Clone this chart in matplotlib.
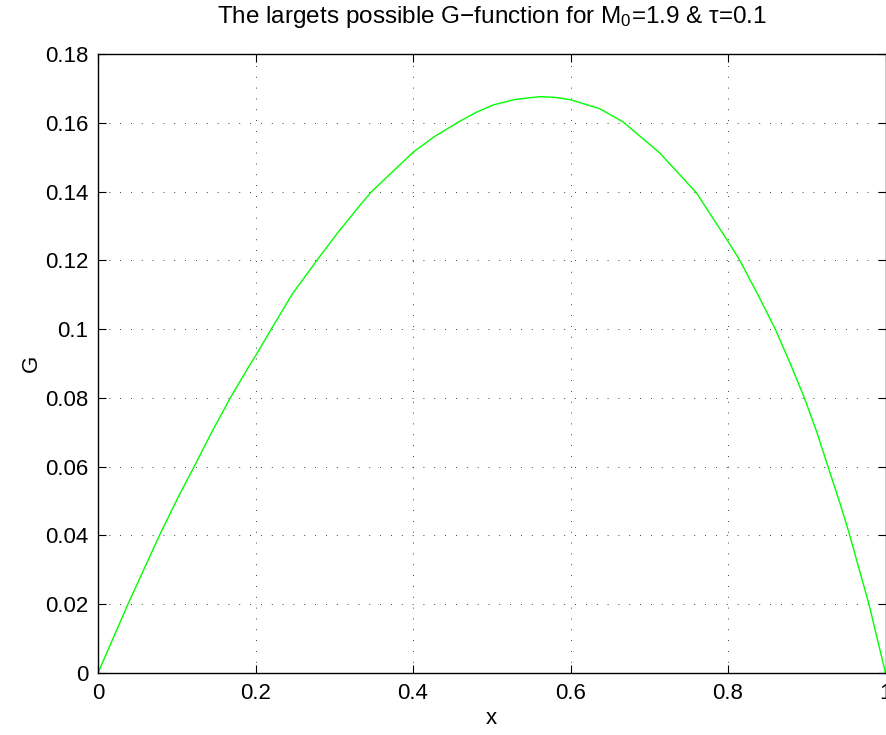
import matplotlib.pyplot as plt

plt.rcParams['font.family'] = ['Liberation Sans', 'DejaVu Sans']
plt.rcParams['mathtext.fontset'] = 'custom'
plt.rcParams['mathtext.rm'] = 'Liberation Sans'
plt.rcParams['mathtext.it'] = 'Liberation Sans:italic'

# values
x = [0.0, 0.038, 0.058, 0.078, 0.1015, 0.122, 0.146, 0.168, 0.192, 0.2,
     0.220, 0.247, 0.278, 0.304, 0.333, 0.3475, 0.4, 0.426, 0.4575, 0.48,
     0.502, 0.53, 0.561, 0.58, 0.6, 0.637, 0.667, 0.713, 0.76,
     0.8, 0.815, 0.84, 0.86, 0.879, 0.897, 0.913, 0.927, 0.942, 0.954,
     0.967, 0.979, 1.0]
G = [0.0, 0.02, 0.03, 0.04, 0.051, 0.06, 0.0707, 0.08, 0.0893, 0.0922,
     0.10, 0.1103, 0.12, 0.1279, 0.1361, 0.14, 0.1514, 0.1558, 0.1602, 0.1630,
     0.1652, 0.1668, 0.1676, 0.1674, 0.1667, 0.1641, 0.1602, 0.1513, 0.1396,
     0.1255, 0.12, 0.1091, 0.10, 0.090, 0.08, 0.0699, 0.06, 0.0495, 0.0405,
     0.0298, 0.02, 0.0]

xticks = [0, 0.2, 0.4, 0.6, 0.8, 1]
xticklabels = ['0', '0.2', '0.4', '0.6', '0.8', '1']
yticks = [0, 0.02, 0.04, 0.06, 0.08, 0.1, 0.12, 0.14, 0.16, 0.18]
yticklabels = ['0', '0.02', '0.04', '0.06', '0.08', '0.1', '0.12', '0.14', '0.16', '0.18']

fig = plt.figure(figsize=(8.86, 7.35), dpi=100)
ax = fig.add_axes([98 / 886, 62 / 735, 787.5 / 886, 619 / 735])

ax.plot(x, G, color='#00ff00', linewidth=1.0)

ax.set_xlim(0, 1)
ax.set_ylim(0, 0.18)
ax.set_xticks(xticks)
ax.set_xticklabels(xticklabels)
ax.set_yticks(yticks)
ax.set_yticklabels(yticklabels)
ax.tick_params(direction='in', length=6, width=0.8, labelsize=16,
               top=True, right=True, pad=7)
ax.grid(True, color='black', linestyle=(0, (1, 12)), linewidth=0.6)
for s in ax.spines.values():
    s.set_linewidth(1.0)

ax.set_xlabel('x', fontsize=16, labelpad=3)
ax.set_ylabel('G', fontsize=16, labelpad=2)
ax.set_title('The largets possible G\u2212function for M$_{\\mathrm{0}}$=1.9 & \u03c4=0.1',
             fontsize=17.5, pad=22)

fig.savefig('out.png', dpi=100)
